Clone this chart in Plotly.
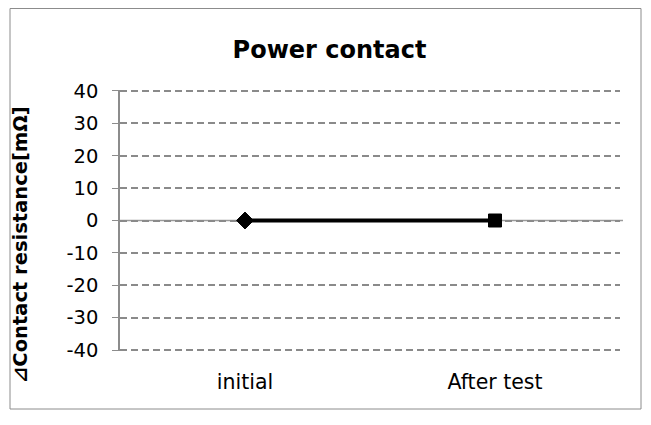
import plotly.graph_objects as go

categories = ["initial", "After test"]
delta_r = [0, 0]
marker_symbols = ["diamond", "square"]
y_ticks = [40, 30, 20, 10, 0, -10, -20, -30, -40]
y_tick_text = [str(v) for v in y_ticks]

FONT = "DejaVu Sans"
GRID = dict(color="#8a8a8a", width=2, dash="7px,4px")

# page body has an 8px margin, so the figure is drawn 8px smaller
W, H = 643, 417
L, R, T, B = 112, 31, 82, 74
pw, ph = W - L - R, H - T - B


def px_x(p):
    return (p - 8 - L) / pw


def px_y(p):
    return (H - B - (p - 8)) / ph


fig = go.Figure()
fig.add_trace(go.Scatter(
    x=[0, 1], y=delta_r,
    mode="lines+markers",
    line=dict(color="black", width=4),
    marker=dict(symbol=marker_symbols, size=[13, 13], color="#000000",
                opacity=1, line=dict(color="#000000", width=1)),
    showlegend=False,
))

# plotly drops the gridlines that sit on the range edges, so draw those two
edge_lines = [
    dict(type="line", xref="paper", yref="y", x0=0, x1=1, y0=v, y1=v,
         line=GRID, layer="below")
    for v in (max(y_ticks), min(y_ticks))
]

fig.update_layout(
    width=W, height=H,
    margin=dict(l=L, r=R, t=T, b=B),
    paper_bgcolor="white", plot_bgcolor="white",
    font=dict(family=FONT, size=19, color="black"),
    title=dict(text="<b>Power contact</b>", x=0.5, xanchor="center",
               y=1 - 42 / H, yanchor="middle",
               font=dict(family=FONT, size=24, color="black")),
    xaxis=dict(
        range=[-0.5, 1.5], tickvals=[0, 1], ticktext=categories,
        showgrid=False, zeroline=False, showline=False, ticks="",
        ticklabelstandoff=16, tickfont=dict(size=20.5),
    ),
    yaxis=dict(
        range=[-40.3, 40.3], tickvals=y_ticks, ticktext=y_tick_text,
        showgrid=True, gridcolor=GRID["color"], griddash=GRID["dash"],
        gridwidth=GRID["width"],
        zeroline=False, showline=True, linecolor="#8c8c8c", linewidth=1.5,
        ticks="outside", ticklen=6, tickcolor="#8c8c8c",
        ticklabelstandoff=10, tickfont=dict(size=19.5),
    ),
    annotations=[
        dict(text="<b>⊿Contact resistance[mΩ]</b>", textangle=-90,
             xref="paper", yref="paper", x=px_x(20), y=px_y(245),
             xanchor="center", yanchor="middle", showarrow=False,
             font=dict(family=FONT, size=19.5, color="black")),
    ],
    shapes=[
        dict(type="rect", xref="paper", yref="paper",
             x0=px_x(10), x1=px_x(641), y0=px_y(409), y1=px_y(8.5),
             line=dict(color="#8c8c8c", width=1), layer="below"),
        dict(type="line", xref="paper", yref="y", x0=0, x1=px_x(623), y0=0, y1=0,
             line=dict(color="#9a9a9a", width=1.5), layer="below"),
    ] + edge_lines,
)

fig.write_html("out.html")
